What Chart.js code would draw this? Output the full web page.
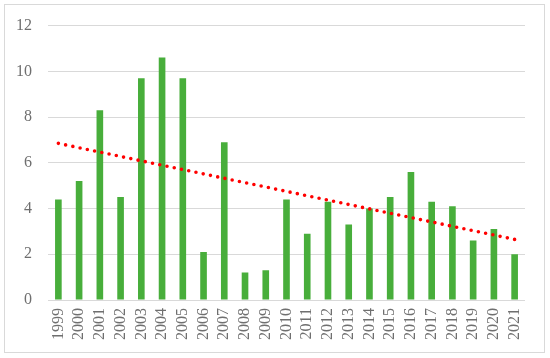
<!DOCTYPE html>
<html>
<head>
<meta charset="utf-8">
<script src="https://cdn.jsdelivr.net/npm/chart.js@4.4.1/dist/chart.umd.min.js"></script>
<style>
  html, body { margin: 0; padding: 0; background: #fff; }
  #wrap { position: relative; width: 550px; height: 358px; }
  #frame { position: absolute; left: 4px; top: 4px; width: 541px; height: 349px; border: 1px solid #d9d9d9; box-sizing: border-box; pointer-events: none; }
  canvas { position: absolute; left: 0; top: 0; }
</style>
</head>
<body>
<div id="wrap">
  <canvas id="chart" width="550" height="358"></canvas>
  <div id="frame"></div>
</div>
<script>
const years = ["1999","2000","2001","2002","2003","2004","2005","2006","2007","2008","2009","2010",
               "2011","2012","2013","2014","2015","2016","2017","2018","2019","2020","2021"]
const values = [4.4, 5.2, 8.3, 4.5, 9.7, 10.6, 9.7, 2.1, 6.9, 1.2, 1.3, 4.4,
                2.9, 4.3, 3.3, 4.0, 4.5, 5.6, 4.3, 4.1, 2.6, 3.1, 2.0]
// trend line end points
const trendStart = 6.85
const trendEnd = 2.65
const yTicks = [0, 2, 4, 6, 8, 10, 12]

const trend = years.map((y, i) => i === 0 ? trendStart : (i === years.length - 1 ? trendEnd : null))

const font = { family: "'Liberation Serif', serif", size: 16 }

new Chart(document.getElementById("chart"), {
    type: "bar",
    data: {
        labels: years,
        datasets: [
            {
                type: "line",
                data: trend,
                spanGaps: true,
                borderColor: "#ff0000",
                borderWidth: 3.6,
                borderDash: [0, 7.4],
                borderCapStyle: "round",
                pointRadius: 0,
                fill: false,
                order: 0,
            },
            {
                data: values,
                backgroundColor: "#48ae3b",
                barPercentage: 0.32,
                categoryPercentage: 1,
                order: 1,
            },
        ]
    },
    options: {
        responsive: false,
        animation: false,
        layout: { padding: { left: 0, right: 25, top: 24, bottom: 0 } },
        plugins: { legend: { display: false }, tooltip: { enabled: false } },
        scales: {
            x: {
                grid: { display: false, drawTicks: false },
                border: { display: false },
                ticks: { color: "#6f6f6f", font: font, maxRotation: 90, minRotation: 90, padding: 8, autoSkip: false },
                afterFit: (s) => { s.height = 58 },
            },
            y: {
                min: 0,
                max: 12,
                afterBuildTicks: (s) => { s.ticks = yTicks.map(v => ({ value: v })) },
                grid: { color: "#d9d9d9", lineWidth: 1, drawTicks: false },
                border: { display: false },
                ticks: { color: "#6f6f6f", font: font, padding: 16 },
                afterFit: (s) => { s.width = 48 },
            },
        },
    },
})
</script>
</body>
</html>
